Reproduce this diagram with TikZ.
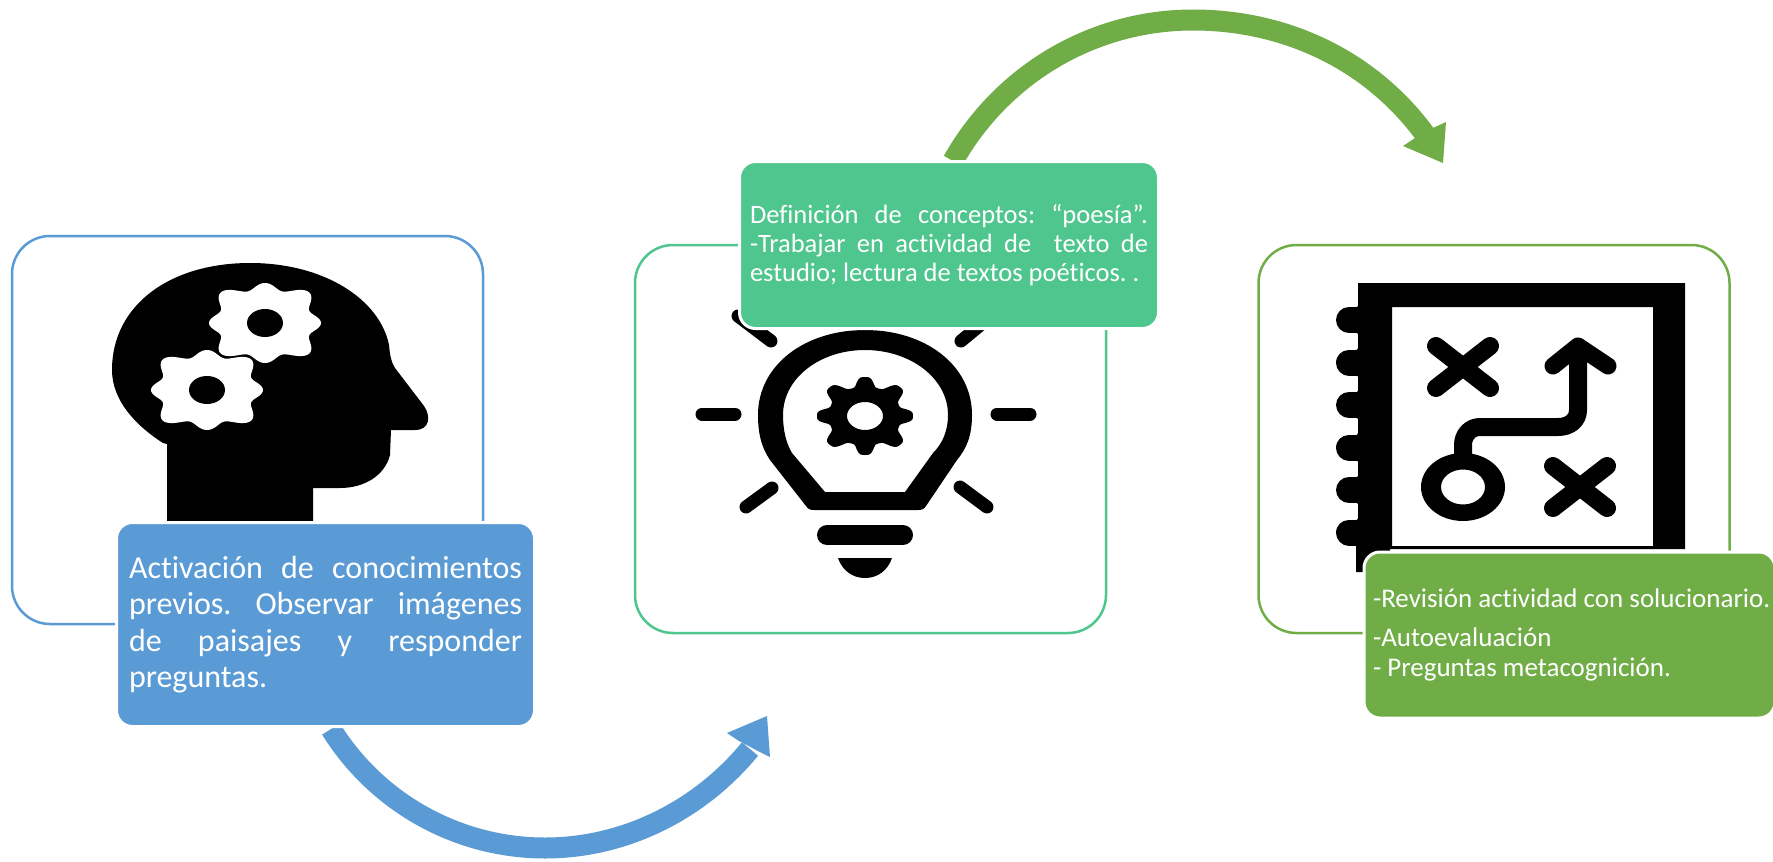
\documentclass[tikz,border=0pt]{standalone}
\usepackage{fontspec}
\setmainfont{Carlito}[Ligatures=NoCommon]
\definecolor{cblue}{HTML}{5B9BD5}
\definecolor{cmint}{HTML}{4FC68E}
\definecolor{cgreen}{HTML}{70AD47}
\tikzset{
  outlinebox/.style={draw=#1,line width=2.5pt,fill=white,rounded corners=38pt,minimum width=471pt,minimum height=388pt,inner sep=0pt},
  textbox/.style={fill=#1,draw=white,line width=3pt,rounded corners=16pt,inner sep=0pt,text=white,align=justify},
  flow/.style={draw=#1,line width=21pt},
  inkline/.style={draw=black,line cap=round,line join=round},
  gearfunc/.style={declare function={gearr(\t)=.9+.1*cos(8*\t)+.1*(1-cos(4*\t))/2;gearb(\t)=.87+.13*(1.12*cos(8*\t)-.12*cos(24*\t))+.04*(1-cos(4*\t))/2;}}
}
\begin{document}
\begin{tikzpicture}[x=1pt,y=-1pt,gearfunc]
\useasboundingbox (0,0) rectangle (1773,862);
\fill[white] (0,0) rectangle (1773,862);

% outline boxes
\node[outlinebox=cblue] (boxa) at (247.5,430) {};
\node[outlinebox=cmint] (boxb) at (870.5,439) {};
\node[outlinebox=cgreen] (boxc) at (1494,439) {};

% head icon
\fill[black] (167,522) -- (167,444) -- (163,443) .. controls (135,425) and (112,400) .. (112,370)
  .. controls (112,305) and (170,263) .. (250,263)
  .. controls (325,263) and (380,300) .. (389,345)
  .. controls (390,355) and (391,362) .. (395,368)
  -- (424,406) .. controls (431,416) and (430,430) .. (415,430)
  -- (391,430) -- (390,455) .. controls (385,475) and (365,488) .. (340,488)
  -- (313,488) -- (313,522) -- cycle;
\foreach \cx/\cy in {265/323,207/390}{
  \fill[white,shift={(\cx,\cy)}] plot[domain=0:360,samples=181] ({56*gearr(\x)*cos(\x)},{40*gearr(\x)*sin(\x)}) -- cycle;
  \fill[black] (\cx,\cy) ellipse [x radius=18pt,y radius=14pt];
}

% bulb icon
\fill[black,even odd rule]
  (865,330) .. controls (925,330) and (972,365) .. (972,415)
  .. controls (972,435) and (967,448) .. (957,460)
  -- (926,506) .. controls (924,509) and (922,510) .. (918,510) -- (814,510)
  .. controls (810,510) and (808,509) .. (806,506)
  -- (770,460) .. controls (762,448) and (758,435) .. (758,415)
  .. controls (758,365) and (805,330) .. (865,330) -- cycle
  (865,350) .. controls (820,350) and (783,378) .. (783,415)
  .. controls (783,430) and (786,443) .. (792,453)
  -- (825,492) -- (905,492) -- (933,453)
  .. controls (943,443) and (948,430) .. (948,415)
  .. controls (948,378) and (910,350) .. (865,350) -- cycle;
\fill[black,even odd rule,shift={(865,416)}]
  plot[domain=0:360,samples=241] ({48*gearb(\x)*cos(\x)},{39*gearb(\x)*sin(\x)}) -- cycle
  (0,0) ellipse [x radius=18pt,y radius=14pt];
\foreach \ax/\ay/\bx/\by in {702/414/735/414,997/414/1030/414,738/316/771/341,990/317/961/341,746/507/772/488,987/507/960/487}{
  \draw[inkline,line width=13pt] (\ax,\ay) -- (\bx,\by);
}
\draw[inkline,line width=20pt] (827,535) -- (903,535);
\fill[black] (838,558) -- (892,558) .. controls (888,570) and (878,578) .. (865,578)
  .. controls (852,578) and (842,570) .. (838,558) -- cycle;

% map icon
\fill[black,even odd rule] (1358,283) -- (1685,283) -- (1685,549) -- (1390,549) -- (1390,572) -- (1356,572) -- (1356,540) -- (1358,540) -- cycle
  (1392,307) rectangle (1653,546);
\fill[black] plot[domain=299:554,samples=161] ({1355-6*cos(8.47*(\x-320))},\x) -- (1365,554) -- (1365,299) -- cycle;
\foreach \sy in {320,362.5,405,447.5,490,532.5}{
  \draw[inkline,line width=26pt] (1349,\sy) -- (1365,\sy);
}
\draw[inkline,line width=18pt] (1436,346) -- (1490,388) (1490,346) -- (1436,388);
\draw[inkline,line width=18pt] (1553,466) -- (1607,508) (1607,466) -- (1553,508);
\draw[inkline,line width=17pt] (1553,366) -- (1578,346) -- (1608,366);
\draw[inkline,line width=18pt,line cap=butt] (1578,345) -- (1578,410) .. controls (1578,420) and (1570,427) .. (1558,427)
  -- (1480,427) .. controls (1470,427) and (1463,435) .. (1463,445) -- (1463,460);
\fill[black,even odd rule] (1463,487) ellipse [x radius=42pt,y radius=34pt]
  (1463,487) ellipse [x radius=22pt,y radius=17.5pt];

% curved arrows
\coordinate (blueStart) at (331,729);
\coordinate (blueEnd) at (750,749);
\draw[flow=cblue] (blueStart) .. controls (377,803) and (458,848) .. (545,848)
  .. controls (625,848) and (700,810) .. (blueEnd);
\fill[cblue] (767,716) -- (727,733) -- (739,741) -- (758,751) -- (770,757) -- cycle;

\coordinate (greenStart) at (953,161);
\coordinate (greenEnd) at (1427,137);
\draw[flow=cgreen] (greenStart) .. controls (1002,74) and (1093,20) .. (1193,20)
  .. controls (1284,20) and (1371,59) .. (greenEnd);
\fill[cgreen] (1443,163) -- (1403,146) -- (1415,138) -- (1433,128) -- (1446,122) -- cycle;

% text boxes
\node[textbox=cblue,minimum width=418pt,minimum height=204pt,text width=393pt,font=\fontsize{32pt}{36.5pt}\selectfont\frenchspacing] (texta) at (325.5,624.5)
  {\tolerance=10000\hbadness=10000 Activación de conocimientos\linebreak previos. Observar imágenes\linebreak de paisajes y responder\linebreak preguntas.};
\node[textbox=cmint,minimum width=419pt,minimum height=167pt,text width=398pt,font=\fontsize{26.5pt}{29pt}\selectfont\frenchspacing] (textb) at (949,245)
  {\tolerance=10000\hbadness=10000 Definición de conceptos: “poesía”.\linebreak -Trabajar en actividad de\ \ texto de\linebreak estudio; lectura de textos poéticos. .};
\node[textbox=cgreen,minimum width=411pt,minimum height=166pt,text width=393pt,font=\fontsize{27pt}{30pt}\selectfont\frenchspacing] (textc) at (1569.5,635)
  {\raggedright\mbox{-Revisión actividad con solucionario.}\\[9pt] -Autoevaluación\\ - Preguntas metacognición.};
\end{tikzpicture}
\end{document}
